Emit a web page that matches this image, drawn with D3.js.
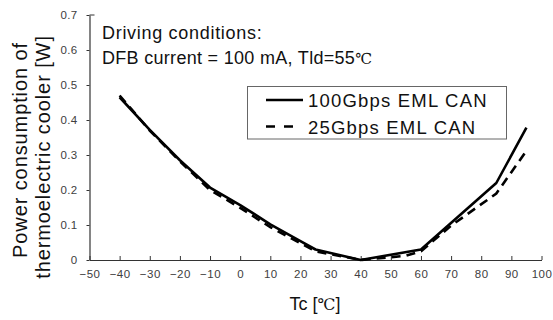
<!DOCTYPE html>
<html>
<head>
<meta charset="utf-8">
<script src="https://cdn.jsdelivr.net/npm/d3@7"></script>
<style>
  html, body { margin: 0; padding: 0; background: #fff; }
  svg { display: block; font-family: "Liberation Sans", Arial, sans-serif; }
</style>
</head>
<body>
<svg id="chart" width="553" height="320"></svg>
<script>
// ---- data ----
const xTicks = [-50, -40, -30, -20, -10, 0, 10, 20, 30, 40, 50, 60, 70, 80, 90, 100];
const yTicks = [0, 0.1, 0.2, 0.3, 0.4, 0.5, 0.6, 0.7];
const seriesNames = ["100Gbps EML CAN", "25Gbps EML CAN"];
const tc100 = [-40, -30, -20, -10, 0, 10, 20, 25, 40, 60, 85, 95];
const pw100 = [0.465, 0.372, 0.285, 0.207, 0.157, 0.102, 0.054, 0.030, 0.000, 0.030, 0.220, 0.378];
const tc25  = [-40, -30, -20, -10, 0, 10, 20, 25, 40, 55, 60, 70, 85, 95];
const pw25  = [0.470, 0.370, 0.282, 0.200, 0.149, 0.094, 0.048, 0.025, 0.000, 0.012, 0.025, 0.098, 0.190, 0.312];
const noteLines = ["Driving conditions:", "DFB current = 100 mA, Tld=55"];
const yTitleLines = ["Power consumption of", "thermoelectric cooler [W]"];
const xTitle = "Tc [";

// ---- layout ----
const svg = d3.select("#chart");
const x = d3.scaleLinear().domain([-50, 100]).range([89.5, 541.5]);
const y = d3.scaleLinear().domain([0, 0.7]).range([260, 15]);
const axisColor = "#333";
const tickTextColor = "#404040";

// x axis
const gx = svg.append("g").attr("transform", `translate(0,${y(0)})`)
  .call(d3.axisBottom(x).tickValues(xTicks).tickSizeInner(-4).tickSizeOuter(0).tickPadding(10)
    .tickFormat(d3.format("d")));
gx.select(".domain").attr("stroke", axisColor).attr("stroke-width", 1.2);
gx.selectAll(".tick line").attr("stroke", axisColor);
gx.selectAll("text").attr("font-size", 11.5).attr("fill", tickTextColor)
  .attr("letter-spacing", 0.5).attr("font-family", "Liberation Sans, Arial, sans-serif");

// y axis
const gy = svg.append("g").attr("transform", `translate(${x(-50)},0)`)
  .call(d3.axisLeft(y).tickValues(yTicks).tickSizeInner(3).tickSizeOuter(0).tickPadding(9)
    .tickFormat(d => d === 0 ? "0" : d3.format(".1f")(d)));
gy.select(".domain").attr("stroke", axisColor).attr("stroke-width", 1.2);
gy.selectAll(".tick line").attr("stroke", axisColor);
gy.selectAll("text").attr("font-size", 11.5).attr("fill", tickTextColor)
  .attr("letter-spacing", 0.3).attr("font-family", "Liberation Sans, Arial, sans-serif");
// small inward stroke at top of y axis
svg.append("line").attr("x1", x(-50)).attr("x2", x(-50) + 5).attr("y1", y(0.7)).attr("y2", y(0.7))
  .attr("stroke", axisColor);

// lines
const line = d3.line().x(d => x(d[0])).y(d => y(d[1]));
const d100 = tc100.map((t, i) => [t, pw100[i]]);
const d25 = tc25.map((t, i) => [t, pw25[i]]);
svg.append("path").datum(d25).attr("d", line).attr("fill", "none")
  .attr("stroke", "#000").attr("stroke-width", 2.6).attr("stroke-dasharray", "9,6");
svg.append("path").datum(d100).attr("d", line).attr("fill", "none")
  .attr("stroke", "#000").attr("stroke-width", 2.6).attr("stroke-linejoin", "round");

// annotation
const note = svg.append("text").attr("font-size", 18).attr("fill", "#111");
note.append("tspan").attr("x", 102).attr("y", 39).attr("letter-spacing", 0.7).text(noteLines[0]);
note.append("tspan").attr("x", 102).attr("y", 64).attr("letter-spacing", 0.3).text(noteLines[1]);
note.append("tspan").attr("font-family", "DejaVu Serif, serif").attr("font-size", 15).attr("letter-spacing", 0).text("\u2103");

// legend
const lg = svg.append("g");
lg.append("rect").attr("x", 247.5).attr("y", 86.5).attr("width", 259).attr("height", 52.5)
  .attr("fill", "#fff").attr("stroke", "#666").attr("stroke-width", 1);
lg.append("line").attr("x1", 266).attr("x2", 303).attr("y1", 100).attr("y2", 100)
  .attr("stroke", "#000").attr("stroke-width", 2.6);
lg.append("line").attr("x1", 266).attr("x2", 294).attr("y1", 126.5).attr("y2", 126.5)
  .attr("stroke", "#000").attr("stroke-width", 2.6).attr("stroke-dasharray", "9,9");
lg.append("text").attr("x", 308).attr("y", 106.5).attr("font-size", 18.5).attr("letter-spacing", 1.2)
  .attr("fill", "#111").text(seriesNames[0]);
lg.append("text").attr("x", 308).attr("y", 133.5).attr("font-size", 18.5).attr("letter-spacing", 1.2)
  .attr("fill", "#111").text(seriesNames[1]);

// y title
svg.append("text").attr("transform", "translate(27,150) rotate(-90)").attr("font-size", 20)
  .attr("fill", "#111").attr("letter-spacing", 0.9).attr("text-anchor", "middle").text(yTitleLines[0]);
svg.append("text").attr("transform", "translate(50,157) rotate(-90)").attr("font-size", 20)
  .attr("fill", "#111").attr("letter-spacing", 0.9).attr("text-anchor", "middle").text(yTitleLines[1]);

// x title
const xt = svg.append("text").attr("x", 315).attr("y", 310).attr("font-size", 18).attr("fill", "#111")
  .attr("text-anchor", "middle");
xt.append("tspan").text(xTitle);
xt.append("tspan").attr("font-family", "DejaVu Serif, serif").attr("font-size", 16).text("\u2103");
xt.append("tspan").text("]");
</script>
</body>
</html>
